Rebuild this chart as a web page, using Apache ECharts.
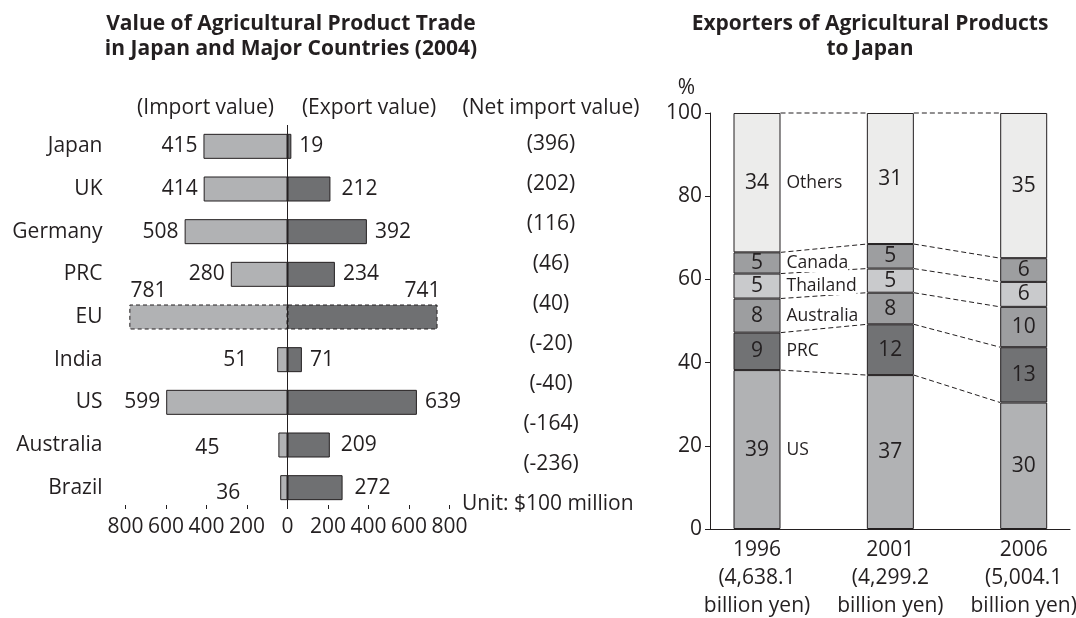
<!DOCTYPE html>
<html>
<head>
<meta charset="utf-8">
<title>Agricultural Product Trade</title>
<script src="https://cdn.jsdelivr.net/npm/echarts@6/dist/echarts.min.js"></script>
<style>
  html, body { margin: 0; padding: 0; background: #fff; }
  #chart { width: 1076px; height: 618px; }
</style>
</head>
<body>
<div id="chart"></div>
<script>
// left: trade value 2004, unit $100 million
var countries = ['Japan', 'UK', 'Germany', 'PRC', 'EU', 'India', 'US', 'Australia', 'Brazil'];
var importValue = [415, 414, 508, 280, 781, 51, 599, 45, 36];
var exportValue = [19, 212, 392, 234, 741, 71, 639, 209, 272];
var netImport = [396, 202, 116, 46, 40, -20, -40, -164, -236];

// right: share of exporters to Japan (%)
var years = ['1996\n(4,638.1\nbillion yen)', '2001\n(4,299.2\nbillion yen)', '2006\n(5,004.1\nbillion yen)'];
var exporters = ['US', 'PRC', 'Australia', 'Thailand', 'Canada', 'Others'];
// heights as drawn
var usShare = [38.2, 37.0, 30.4];
var prcShare = [9.0, 12.2, 13.3];
var ausShare = [8.2, 7.6, 9.7];
var thaiShare = [6.0, 5.8, 6.0];
var canShare = [5.1, 5.9, 5.7];
var othersShare = [33.5, 31.5, 34.9];
// figures printed in the bars
var usLabel = [39, 37, 30];
var prcLabel = [9, 12, 13];
var ausLabel = [8, 8, 10];
var thaiLabel = [5, 5, 6];
var canLabel = [5, 5, 6];
var othersLabel = [34, 31, 35];

var ink = '#231f20';
var font = '"Open Sans", sans-serif';
var txt = { fontFamily: font, fontSize: 21, color: ink };

// label placement that differs from the default
var importLabelTweak = {
  EU: { position: 'top', distance: 3, offset: [-60, 0] },
  India: { distance: 30 },
  Australia: { distance: 59, offset: [0, 3] },
  Brazil: { distance: 40, offset: [0, 5] }
};
var exportLabelTweak = {
  EU: { position: 'top', distance: 3, offset: [60, 0] },
  UK: { distance: 11 },
  Australia: { distance: 11 },
  Brazil: { distance: 12 }
};

var myChart = echarts.init(document.getElementById('chart'));

function tradeItems(values, sign, tweaks) {
  return values.map(function (v, i) {
    var item = { value: sign * v };
    if (tweaks[countries[i]]) item.label = tweaks[countries[i]];
    if (countries[i] === 'EU') item.itemStyle = { borderType: [4, 3] };
    return item;
  });
}

var shareSeries = [usShare, prcShare, ausShare, thaiShare, canShare, othersShare];
var shareLabels = [usLabel, prcLabel, ausLabel, thaiLabel, canLabel, othersLabel];
var shareColors = ['#b1b2b4', '#717274', '#9d9ea0', '#c9cacc', '#9d9ea0', '#ececeb'];
var barW = 47;

var series = [
  {
    name: 'Import value',
    type: 'bar',
    xAxisIndex: 0, yAxisIndex: 0,
    stack: 'trade',
    barWidth: 25,
    itemStyle: { color: '#b1b2b4', borderColor: ink, borderWidth: 1 },
    label: Object.assign({ show: true, position: 'left', distance: 6,
      formatter: function (p) { return importValue[p.dataIndex]; } }, txt),
    data: tradeItems(importValue, -1, importLabelTweak),
    markLine: {
      silent: true, symbol: ['none', 'none'], z: 5,
      label: { show: false },
      lineStyle: { color: ink, width: 1, type: 'solid' },
      data: [{ xAxis: 0 }]
    }
  },
  {
    name: 'Export value',
    type: 'bar',
    xAxisIndex: 0, yAxisIndex: 0,
    stack: 'trade',
    barWidth: 25,
    itemStyle: { color: '#6f7072', borderColor: ink, borderWidth: 1 },
    label: Object.assign({ show: true, position: 'right', distance: 8,
      formatter: function (p) { return exportValue[p.dataIndex]; } }, txt),
    data: tradeItems(exportValue, 1, exportLabelTweak)
  }
];

// stacked share bars live on grid 3 (year axis runs bar centre to bar centre),
// the visible frame is drawn by grid 1
shareSeries.forEach(function (arr, k) {
  series.push({
    name: exporters[k],
    type: 'bar',
    xAxisIndex: 2, yAxisIndex: 3,
    stack: 'share',
    barWidth: barW,
    clip: false,
    z: 3,
    itemStyle: { color: shareColors[k], borderColor: ink, borderWidth: 1 },
    label: Object.assign({ show: true, position: 'inside',
      formatter: function (p) { return shareLabels[k][p.dataIndex]; } }, txt),
    data: arr.map(function (v, i) {
      var item = { value: v };
      if (i === 0) {
        // first bar also carries the exporter name on its right
        item.label = {
          position: 'insideLeft', distance: 0,
          formatter: '{n|' + shareLabels[k][0] + '}{s|}{t|' + exporters[k] + '}',
          rich: {
            n: { width: barW, align: 'center', fontFamily: font, fontSize: 21, color: ink },
            s: { width: 6 },
            t: { fontFamily: font, fontSize: 17.5, color: ink, backgroundColor: '#fff', lineHeight: 26 }
          }
        };
      }
      return item;
    })
  });
});

// dashed connectors between segment tops
var connectorData = [];
for (var k = 0; k < shareSeries.length; k++) {
  for (var i = 0; i < years.length - 1; i++) {
    var a = 0, b = 0;
    for (var j = 0; j <= k; j++) { a += shareSeries[j][i]; b += shareSeries[j][i + 1]; }
    connectorData.push([i, a, b]);
  }
}
series.push({
  type: 'custom',
  xAxisIndex: 2, yAxisIndex: 3,
  z: 1,
  silent: true,
  clip: false,
  encode: { x: 0, y: [1, 2] },
  data: connectorData,
  renderItem: function (params, api) {
    var p1 = api.coord([api.value(0), api.value(1)]);
    var p2 = api.coord([api.value(0) + 1, api.value(2)]);
    return {
      type: 'line',
      shape: { x1: p1[0] + barW / 2, y1: p1[1], x2: p2[0] - barW / 2, y2: p2[1] },
      style: { stroke: ink, lineWidth: 1, lineDash: [5, 3] }
    };
  }
});

var option = {
  animation: false,
  backgroundColor: '#fff',
  textStyle: { fontFamily: font },
  title: [
    {
      text: 'Value of Agricultural Product Trade\nin Japan and Major Countries (2004)',
      left: 291, top: 12, textAlign: 'center', padding: 0,
      textStyle: { fontFamily: font, fontSize: 21, fontWeight: 'bold', color: ink, lineHeight: 25 }
    },
    {
      text: 'Exporters of Agricultural Products\nto Japan',
      left: 870, top: 12, textAlign: 'center', padding: 0,
      textStyle: { fontFamily: font, fontSize: 21, fontWeight: 'bold', color: ink, lineHeight: 25 }
    }
  ],
  grid: [
    { left: 125.5, width: 324, top: 125, height: 384, outerBoundsMode: 'none' },
    { left: 710, width: 360, top: 113, height: 416, outerBoundsMode: 'none' },
    { left: 551, width: 10, top: 124, height: 360, outerBoundsMode: 'none' },
    { left: 757, width: 266.7, top: 113, height: 416, outerBoundsMode: 'none' }
  ],
  xAxis: [
    {
      type: 'value', gridIndex: 0,
      min: -800, max: 800, interval: 200,
      axisLine: { lineStyle: { color: ink } },
      axisTick: { show: true, inside: true, length: 4, lineStyle: { color: ink } },
      splitLine: { show: false },
      axisLabel: Object.assign({ margin: 8, formatter: function (v) { return Math.abs(v); } }, txt)
    },
    {
      type: 'value', gridIndex: 1, min: 0, max: 1,
      axisLine: { show: true, onZero: false, lineStyle: { color: ink } },
      axisTick: { show: false },
      splitLine: { show: false },
      axisLabel: { show: false }
    },
    {
      type: 'category', gridIndex: 3, data: years, boundaryGap: false,
      axisLine: { show: false },
      axisTick: { show: false },
      axisLabel: Object.assign({ margin: 7, lineHeight: 28, interval: 0 }, txt)
    },
    { type: 'value', gridIndex: 2, show: false }
  ],
  yAxis: [
    {
      type: 'category', gridIndex: 0, inverse: true, data: countries,
      axisLine: { show: false, onZero: false },
      axisTick: { show: false },
      axisLabel: Object.assign({ margin: 23 }, txt)
    },
    {
      type: 'value', gridIndex: 1, min: 0, max: 100, interval: 20,
      name: '%', nameLocation: 'end', nameGap: 14,
      nameTextStyle: Object.assign({ align: 'right', padding: [0, 15, 0, 0] }, txt),
      axisLine: { show: true, onZero: false, lineStyle: { color: ink } },
      axisTick: { show: true, length: 5, lineStyle: { color: ink } },
      splitLine: { show: false },
      axisLabel: Object.assign({ margin: 8 }, txt)
    },
    {
      type: 'category', gridIndex: 2, inverse: true, data: countries,
      axisLine: { show: false, onZero: false },
      axisTick: { show: false },
      axisLabel: Object.assign({
        margin: 0, align: 'center',
        formatter: function (v, i) { return '(' + netImport[i] + ')'; }
      }, txt)
    },
    {
      type: 'value', gridIndex: 3, min: 0, max: 100, show: false
    }
  ],
  graphic: [
    { type: 'text', x: 205.5, y: 108, style: { text: '(Import value)', font: '21px ' + font, fill: ink, align: 'center', verticalAlign: 'middle' } },
    { type: 'text', x: 369, y: 108, style: { text: '(Export value)', font: '21px ' + font, fill: ink, align: 'center', verticalAlign: 'middle' } },
    { type: 'text', x: 551, y: 108, style: { text: '(Net import value)', font: '21px ' + font, fill: ink, align: 'center', verticalAlign: 'middle' } },
    { type: 'text', x: 462, y: 504, style: { text: 'Unit: $100 million', font: '21px ' + font, fill: ink, align: 'left', verticalAlign: 'middle' } }
  ],
  series: series
};

myChart.setOption(option);
</script>
</body>
</html>
